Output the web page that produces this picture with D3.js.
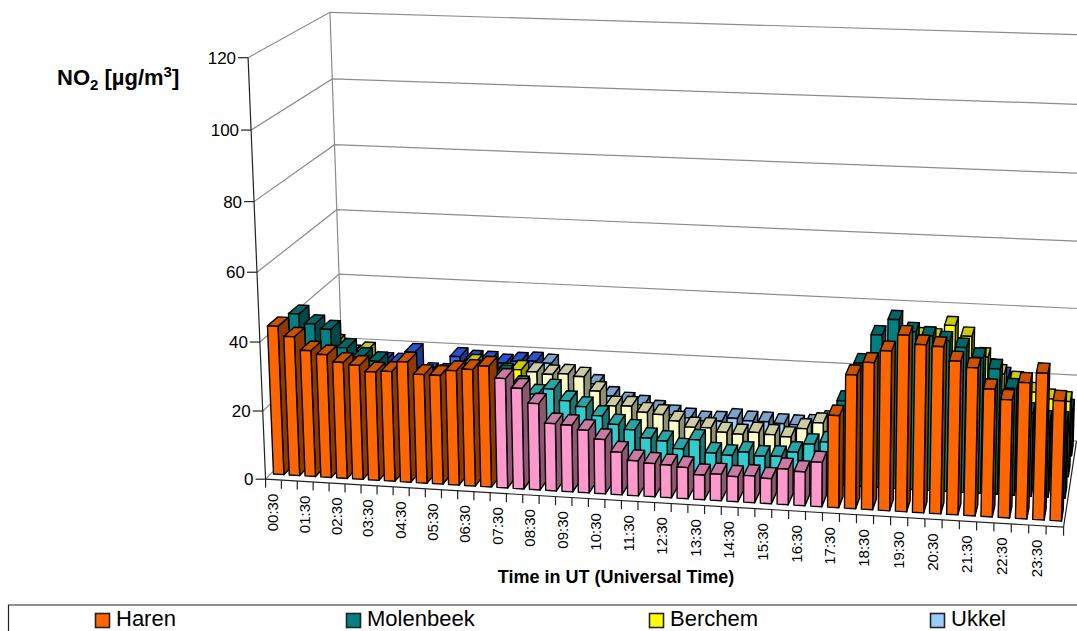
<!DOCTYPE html>
<html><head><meta charset="utf-8">
<script src="https://cdn.jsdelivr.net/npm/d3@7"></script>
<style>html,body{margin:0;padding:0;background:#fff;overflow:hidden}svg{display:block}text{font-family:"Liberation Sans",Arial,sans-serif;fill:#000}</style>
</head><body><svg id="c" width="1077" height="631"></svg>
<script>
const seriesNames=["Haren","Molenbeek","Berchem","Ukkel"];
const tickLabels=["00:30","01:30","02:30","03:30","04:30","05:30","06:30","07:30","08:30","09:30","10:30","11:30","12:30","13:30","14:30","15:30","16:30","17:30","18:30","19:30","20:30","21:30","22:30","23:30"];
const yTicks=[0,20,40,60,80,100,120];
const haren=[43.4,40.6,36.8,35.9,33.9,33.3,31.6,32,35,31.6,31.6,33.2,33.8,35,31.7,29.1,25,19.5,19.3,18.1,15.7,12.3,10.1,9.6,9.4,9,7.1,7.6,7.2,7.7,7.2,10.2,9.7,12.7,26.2,37.9,41.6,45.1,49.7,47.3,47,43.2,41.6,35.9,33.2,38.2,41.1,33.7];
const molenbeek=[41.8,39.1,37.7,32.5,30,29,26,25,25,26,27,27,27,27,24,21.7,23.5,20.3,18.8,16.4,14.1,12.8,10.6,10,8,10.9,7.3,6.9,8.1,7.2,7.4,8.9,11.5,12.4,24.6,35.7,44,48.6,45.4,44.4,43.3,41.6,39,36,30.7,24,22,22];
const berchem=[28,28,25,26.1,18,18,18,18,18,19,24,22,21.8,22.9,22.5,22,22.4,21.8,17.7,13.5,13.7,12.1,11.7,10,8.4,8.5,7.4,7.1,7.9,7.5,7.1,9.8,11.8,12.5,18,25,30,36,38.7,38.6,42.4,39.5,33.7,29,27.2,24.2,22.5,22];
const ukkel=[17,17,17,17.5,17.5,20.8,15,15,20.2,19.6,19.5,18.9,19.7,20,19.6,16,15,14,10.5,9,8.3,7,5.8,5.1,4.4,4.6,5.7,5.2,5.2,4.9,4.8,5.2,6.6,7,16,18,20,22,24,25,25,26,25,22.7,18,15,15,14];
const seriesValues=[haren,molenbeek,berchem,ukkel];
const nightColors=["#FF6600","#008080","#FFFF00","#3366FF"];
const dayColors=["#FF99CC","#33CCCC","#FFFFCC","#99CCFF"];
const legendColors=["#FF6600","#008080","#FFFF00","#99CCFF"];
const dayFrom=14, dayTo=33;

// perspective view of the unit box, fitted from where its corners sit on the page
const anchors=[[0,0,0,266,479],[1,0,0,1063,528],[0,1,0,248,58],[0,0,1,343,401],[0,1,1,330,12],[1,0,1,1077,440],[1,1,1,1088,36],[1,1,0,1076,84]];
function solve(A,b){const n=b.length,M=A.map((r,i)=>[...r,b[i]]);
 for(let i=0;i<n;i++){let p=i;for(let k=i+1;k<n;k++)if(Math.abs(M[k][i])>Math.abs(M[p][i]))p=k;[M[i],M[p]]=[M[p],M[i]];
  for(let k=0;k<n;k++){if(k===i)continue;const f=M[k][i]/M[i][i];for(let j=i;j<=n;j++)M[k][j]-=f*M[i][j];}}
 return M.map((r,i)=>r[n]/r[i]);}
const rows=[],rhs=[];
anchors.forEach(([x,y,z,u,v])=>{u/=1000;v/=1000;
 rows.push([1,x,y,z,0,0,0,0,-u*x,-u*y,-u*z]);rhs.push(u);
 rows.push([0,0,0,0,1,x,y,z,-v*x,-v*y,-v*z]);rhs.push(v);});
const ATA=d3.range(11).map(i=>d3.range(11).map(j=>d3.sum(rows,r=>r[i]*r[j])));
const ATb=d3.range(11).map(i=>d3.sum(rows,(r,k)=>r[i]*rhs[k]));
const m=solve(ATA,ATb);
function P(x,y,z){const w=1+m[8]*x+m[9]*y+m[10]*z;
 return [1000*(m[0]+m[1]*x+m[2]*y+m[3]*z)/w,1000*(m[4]+m[5]*x+m[6]*y+m[7]*z)/w];}

const xS=d3.scaleBand().domain(d3.range(48)).range([0,1]).paddingInner(.34).paddingOuter(.17);
const yS=d3.scaleLinear().domain([0,120]).range([0,1]);
const zS=d3.scaleBand().domain(d3.range(4)).range([0,1]).paddingInner(.5).paddingOuter(.25);
const svg=d3.select("#c");
const line=pts=>"M"+pts.map(p=>p.map(n=>n.toFixed(2)).join(",")).join("L");
const poly=pts=>line(pts)+"Z";

// walls
const wall=svg.append("g").attr("fill","none").attr("stroke","#8c8c8c").attr("stroke-width",1.2);
yTicks.forEach(t=>{const v=yS(t);
 wall.append("path").attr("d",line([P(0,v,0),P(0,v,1),P(1,v,1)]));});
wall.append("path").attr("d",line([P(0,0,1),P(0,1,1)]));

// bars, far row first, left to right
const shade=(c,f)=>d3.rgb(c.r*f,c.g*f,c.b*f).formatHex();
const bars=svg.append("g").attr("stroke","#000").attr("stroke-width",1.4).attr("stroke-linejoin","round");
for(let s=3;s>=0;s--){
 seriesValues[s].forEach((val,i)=>{
  const base=d3.rgb(i>=dayFrom&&i<=dayTo?dayColors[s]:nightColors[s]);
  const x0=xS(i),x1=x0+xS.bandwidth(),z0=zS(s),z1=z0+zS.bandwidth(),h=yS(val);
  const g=bars.append("g");
  g.append("path").attr("fill",shade(base,.56)).attr("d",poly([P(x1,0,z0),P(x1,0,z1),P(x1,h,z1),P(x1,h,z0)]));
  g.append("path").attr("fill",shade(base,.8)).attr("d",poly([P(x0,h,z0),P(x1,h,z0),P(x1,h,z1),P(x0,h,z1)]));
  g.append("path").attr("fill",base.formatHex()).attr("d",poly([P(x0,0,z0),P(x1,0,z0),P(x1,h,z0),P(x0,h,z0)]));
 });
}

// axes
const ax=svg.append("g").attr("stroke","#222").attr("fill","none").attr("stroke-width",1.2);
ax.append("path").attr("d",line([P(0,0,0),P(0,1,0)]));
ax.append("path").attr("d",line([P(0,0,0),P(1,0,0),P(1,0,1)]));
yTicks.forEach(t=>{const p=P(0,yS(t),0);
 ax.append("path").attr("d",line([p,[p[0]-10,p[1]]]));
 svg.append("text").attr("x",p[0]-12).attr("y",p[1]+6).attr("text-anchor","end").attr("font-size",17).text(t);});
d3.range(49).forEach(i=>{const p=P(i/48,0,0);
 ax.append("path").attr("d",line([p,[p[0],p[1]+8.5]]));});
tickLabels.forEach((t,k)=>{const p=P((2*k+.5)/48,0,0);
 svg.append("text").attr("transform",`translate(${(p[0]-1).toFixed(1)},${(p[1]+14).toFixed(1)}) rotate(-90)`)
  .attr("text-anchor","end").attr("dy",".36em").attr("font-size",15).text(t);});

// titles
const yt=svg.append("text").attr("x",57).attr("y",85).attr("font-weight","bold").attr("font-size",22);
yt.append("tspan").text("NO");
yt.append("tspan").attr("font-size",15).attr("dy",5).text("2");
yt.append("tspan").attr("dy",-5).text(" [µg/m");
yt.append("tspan").attr("font-size",15).attr("dy",-8).text("3");
yt.append("tspan").attr("dy",8).text("]");
svg.append("text").attr("x",616).attr("y",582.5).attr("text-anchor","middle").attr("font-weight","bold").attr("font-size",18).text("Time in UT (Universal Time)");

// legend
svg.append("path").attr("fill","none").attr("stroke","#222").attr("stroke-width",1.2).attr("d","M8.5,631V605H1077");
const legendX=[95,346,649,930];
seriesNames.forEach((n,i)=>{
 svg.append("rect").attr("x",legendX[i]+.5).attr("y",613.5).attr("width",14).attr("height",14).attr("fill",legendColors[i]).attr("stroke","#222").attr("stroke-width",1.6);
 svg.append("text").attr("x",legendX[i]+21).attr("y",626).attr("font-size",22).text(n);
});
</script></body></html>
